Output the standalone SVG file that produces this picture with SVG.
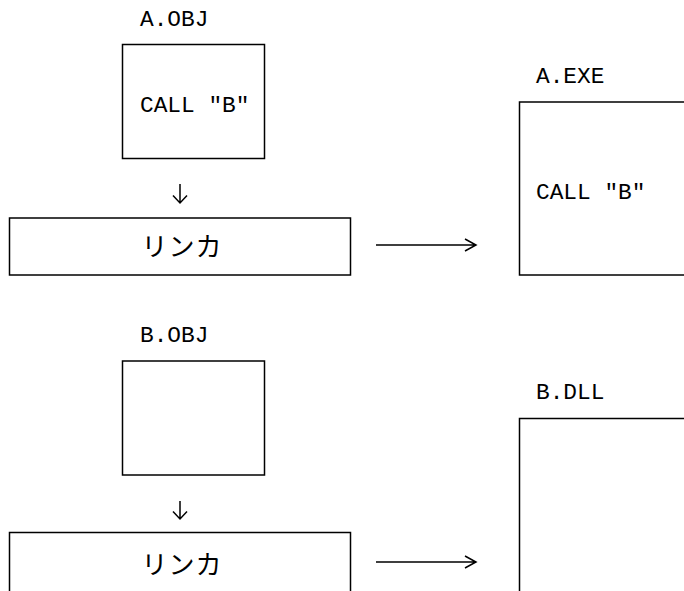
<svg xmlns="http://www.w3.org/2000/svg" width="684" height="591" viewBox="0 0 684 591">
<style>
.box{fill:#fff;stroke:#000;stroke-width:1.5}
.t{font-family:"Liberation Mono","DejaVu Sans Mono",monospace;font-size:22.8px;fill:#000}
.j{font-family:"Noto Sans CJK JP","Noto Sans CJK SC",sans-serif;font-size:26px;letter-spacing:1px;fill:#000;text-anchor:middle}
.c{fill:none;stroke:#000;stroke-width:1.5}
</style>
<rect width="684" height="591" fill="#fff"/>
<g id="a-obj">
<text class="t" x="140" y="26">A.OBJ</text>
<rect class="box" x="122.5" y="44.5" width="142" height="114"/>
<text class="t" x="140" y="111.5">CALL "B"</text>
</g>
<g id="linker-a">
<rect class="box" x="9.5" y="218" width="341" height="57"/>
<text class="j" x="182" y="256">リンカ</text>
</g>
<g id="a-exe">
<text class="t" x="536" y="83">A.EXE</text>
<rect class="box" x="519.5" y="102" width="200" height="173"/>
<text class="t" x="536" y="199">CALL "B"</text>
</g>
<g id="b-obj">
<text class="t" x="140" y="342">B.OBJ</text>
<rect class="box" x="122.5" y="361" width="142" height="114"/>
</g>
<g id="linker-b">
<rect class="box" x="9.5" y="532.5" width="341" height="100"/>
<text class="j" x="182" y="574">リンカ</text>
</g>
<g id="b-dll">
<text class="t" x="536" y="399">B.DLL</text>
<rect class="box" x="519.5" y="418.5" width="200" height="200"/>
</g>
<g id="connectors">
<path class="c" d="M180 184V203M173 195.5L180 203L187 195.5"/>
<path class="c" d="M180 501V519M173 511.5L180 519L187 511.5"/>
<path class="c" d="M376 245H476M465 239L476 245L465 251"/>
<path class="c" d="M376 562H476M465 556L476 562L465 568"/>
</g>
</svg>
